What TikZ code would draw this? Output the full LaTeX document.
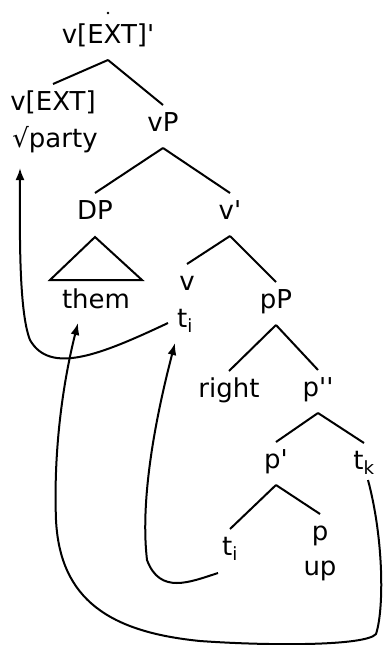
\documentclass[tikz,border=0pt]{standalone}
\usepackage{fontspec}
\setmainfont{DejaVu Sans}
\usetikzlibrary{calc,arrows.meta}

\begin{document}
\begin{tikzpicture}[x=1pt,y=-1pt,
    lbl/.style={anchor=base,inner sep=1pt,font=\fontsize{26}{30}\selectfont},
    mv/.style={line width=2pt,-{Latex[length=12pt,width=9pt]}}]
  \useasboundingbox (0,0) rectangle (383,645);

  % labels, placed at their baselines
  \node[lbl] (rootv) at (108,43) {v[EXT]\textquotesingle};
  \fill (108,13) circle (1.3);
  \node[lbl] (vext) at (53,110) {v[EXT]};
  \node[lbl] (party) at (55,147) {√party};
  \node[lbl] (vp) at (163,131) {vP};
  \node[lbl] (dp) at (95,219) {DP};
  \node[lbl] (vbar) at (230,219) {v\textquotesingle};
  \node[lbl] (them) at (96,308) {them};
  \node[lbl] (vhead) at (187,290) {v};
  \node[lbl] (ti) at (185,327) {t\textsubscript{i}};
  \node[lbl] (pp) at (276,308) {pP};
  \node[lbl] (right) at (229,397) {right};
  \node[lbl] (pbarb) at (318,396) {p\textquotesingle\textquotesingle};
  \node[lbl] (pbar) at (276,468) {p\textquotesingle};
  \node[lbl] (tk) at (364,469) {t\textsubscript{k}};
  \node[lbl] (tj) at (230,555) {t\textsubscript{i}};
  \node[lbl] (phead) at (320,540) {p};
  \node[lbl] (up) at (320,575) {up};

  % branches
  \foreach \p/\c in {rootv/vext,rootv/vp,vp/dp,vp/vbar,vbar/vhead,vbar/pp,
                     pp/right,pp/pbarb,pbarb/pbar,pbarb/tk,pbar/tj,pbar/phead}
    \draw[line width=2pt] ($(\p.base)+(0,17)$) -- ($(\c.base)+(0,-26)$);
  \draw[line width=2pt] ($(dp.base)+(0,18)$) -- ($(them.base)+(-46,-28)$)
    -- ($(them.base)+(46,-28)$) -- cycle;

  % movement arrows
  \draw[mv] ($(ti.base)+(-17,-4)$) .. controls (100,355) and (50,375) .. (30,340)
    .. controls (18,310) and (20,220) .. ($(party.base)+(-35,21)$);
  \draw[mv] ($(tj.base)+(-12,18)$) .. controls (190,582) and (160,595) .. (147,560)
    .. controls (140,500) and (155,420) .. ($(ti.base)+(-10,16)$);
  \draw[mv] ($(tk.base)+(4,11)$) .. controls (384,540) and (384,610) .. (376,634)
    .. controls (366,646) and (270,646) .. (200,641)
    .. controls (110,632) and (60,600) .. (56,520)
    .. controls (53,440) and (66,370) .. ($(them.base)+(-18,15)$);
\end{tikzpicture}
\end{document}
